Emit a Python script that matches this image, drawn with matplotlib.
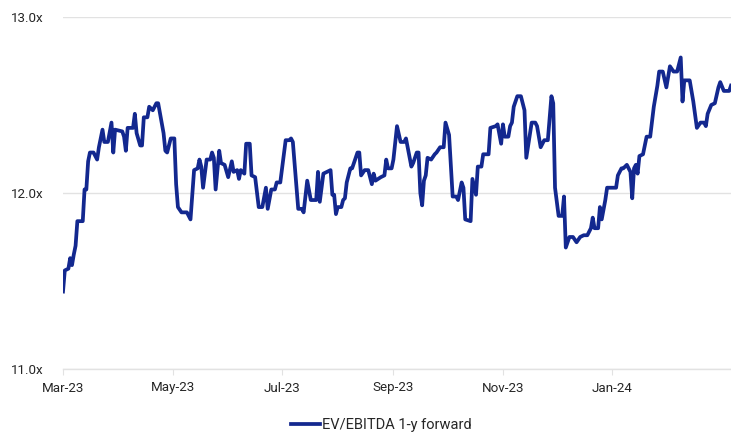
import matplotlib
matplotlib.use("Agg")
import matplotlib.pyplot as plt
import matplotlib.dates as mdates
import pandas as pd

plt.rcParams['font.family'] = ['Roboto', 'DejaVu Sans']

# EV/EBITDA 1-y forward multiple; days counted from 2023-03-01
start = pd.Timestamp('2023-03-01')
days = [0, 1, 3, 4, 5, 6, 7, 8, 11, 12, 13, 14, 15, 17, 19, 20, 22, 23, 25, 27,
        28, 29, 33, 34, 35, 36, 39, 40, 41, 43, 44, 45, 47, 48, 50, 52, 53, 56, 57, 58,
        60, 62, 63, 64, 66, 69, 71, 73, 75, 76, 77, 78, 80, 82, 83, 84, 85, 87, 88, 90,
        92, 94, 95, 97, 98, 99, 101, 102, 104, 105, 107, 109, 111, 113, 114, 116, 118, 119, 121, 124,
        126, 127, 128, 131, 133, 134, 136, 138, 141, 142, 143, 145, 149, 150, 151, 152, 153, 155, 156, 157,
        158, 160, 161, 162, 164, 165, 166, 168, 170, 172, 173, 174, 177, 179, 180, 181, 183, 184, 186, 188,
        190, 191, 194, 195, 197, 198, 199, 200, 201, 202, 203, 205, 207, 208, 210, 212, 213, 215, 217, 219,
        220, 222, 223, 224, 227, 228, 230, 231, 233, 234, 237, 238, 241, 242, 244, 245, 246, 248, 249, 250,
        251, 253, 255, 257, 258, 261, 263, 264, 266, 268, 270, 272, 273, 274, 276, 278, 279, 280, 282, 284,
        286, 288, 290, 292, 294, 295, 296, 298, 299, 300, 302, 303, 306, 308, 309, 311, 312, 314, 316, 317,
        318, 319, 320, 321, 323, 325, 327, 329, 331, 332, 334, 336, 338, 340, 342, 344, 345, 346, 349, 351,
        353, 355, 357, 358, 359, 361, 363, 365, 366, 368, 371, 372]
ev_ebitda = [11.44, 11.56, 11.57, 11.63, 11.59, 11.65, 11.70, 11.84, 11.84, 12.02,
             12.02, 12.18, 12.23, 12.23, 12.19, 12.26, 12.36, 12.29, 12.29, 12.40,
             12.23, 12.36, 12.35, 12.32, 12.24, 12.37, 12.37, 12.45, 12.34, 12.27,
             12.27, 12.43, 12.43, 12.49, 12.47, 12.51, 12.51, 12.34, 12.24, 12.23,
             12.31, 12.31, 12.05, 11.92, 11.89, 11.89, 11.85, 12.13, 12.14, 12.19,
             12.15, 12.03, 12.19, 12.19, 12.23, 12.20, 12.02, 12.24, 12.17, 12.16,
             12.09, 12.18, 12.12, 12.13, 12.08, 12.13, 12.11, 12.28, 12.28, 12.10,
             12.09, 11.92, 11.92, 12.03, 11.91, 12.02, 12.02, 12.06, 12.06, 12.30,
             12.30, 12.31, 12.29, 11.91, 11.91, 11.89, 12.07, 11.96, 11.96, 12.12,
             11.95, 12.11, 12.13, 11.99, 11.99, 11.88, 11.92, 11.92, 11.96, 11.97,
             12.06, 12.14, 12.14, 12.17, 12.23, 12.23, 12.10, 12.13, 12.13, 12.05,
             12.11, 12.07, 12.09, 12.10, 12.19, 12.14, 12.14, 12.19, 12.38, 12.29,
             12.29, 12.31, 12.15, 12.17, 12.23, 12.23, 12.00, 11.93, 12.07, 12.10,
             12.20, 12.19, 12.22, 12.23, 12.26, 12.26, 12.40, 12.33, 11.98, 11.98,
             11.96, 12.06, 12.03, 11.85, 11.84, 12.08, 11.99, 12.15, 12.15, 12.22,
             12.22, 12.37, 12.38, 12.39, 12.28, 12.39, 12.32, 12.32, 12.38, 12.40,
             12.49, 12.55, 12.55, 12.47, 12.20, 12.40, 12.40, 12.38, 12.26, 12.30,
             12.30, 12.55, 12.51, 12.03, 11.87, 11.87, 11.98, 11.69, 11.75, 11.75,
             11.72, 11.75, 11.76, 11.76, 11.80, 11.86, 11.80, 11.80, 11.92, 11.85,
             11.96, 12.03, 12.03, 12.03, 12.10, 12.14, 12.14, 12.16, 12.12, 11.97,
             12.14, 12.16, 12.11, 12.21, 12.22, 12.32, 12.32, 12.49, 12.61, 12.69,
             12.69, 12.60, 12.72, 12.69, 12.69, 12.77, 12.52, 12.64, 12.64, 12.52,
             12.37, 12.40, 12.40, 12.38, 12.45, 12.50, 12.51, 12.60, 12.63, 12.58,
             12.58, 12.61]
tick_dates = ['2023-03-01', '2023-05-01', '2023-07-01', '2023-09-01', '2023-11-01', '2024-01-01']
y_ticks = [11.0, 12.0, 13.0]

dates = start + pd.to_timedelta(days, unit='D')

fig = plt.figure(figsize=(7.31, 4.38), dpi=100)
ax = fig.add_axes([63 / 731, 1 - 369 / 438, 1 - 63 / 731, (369 - 17) / 438])

ax.plot(dates, ev_ebitda, color='#13288f', lw=2.7, solid_joinstyle='round',
        label='EV/EBITDA 1-y forward')

ax.set_xlim(dates[0], dates[-1])
ax.set_ylim(11.0, 13.0)
ax.set_yticks(y_ticks)
ax.set_yticklabels([f'{v:.1f}x' for v in y_ticks])
ax.set_xticks(pd.to_datetime(tick_dates))
ax.xaxis.set_major_formatter(mdates.DateFormatter('%b-%y'))

ax.grid(axis='y', color='#e2e2e2', lw=1)
ax.set_axisbelow(True)
for s in ['top', 'right', 'left']:
    ax.spines[s].set_visible(False)
ax.spines['bottom'].set_color('#e2e2e2')
ax.spines['bottom'].set_linewidth(1)
ax.tick_params(axis='y', length=0, pad=14, labelsize=9.6, labelcolor='#262626')
ax.tick_params(axis='x', length=4, color='#e2e2e2', pad=5, labelsize=9.6, labelcolor='#262626')

fig.legend(loc='center', bbox_to_anchor=(381 / 731, 1 - 425 / 438), frameon=False,
           fontsize=10.5, handlelength=2.0, handletextpad=0.15, labelcolor='#262626')

fig.savefig('out.png', dpi=100)
